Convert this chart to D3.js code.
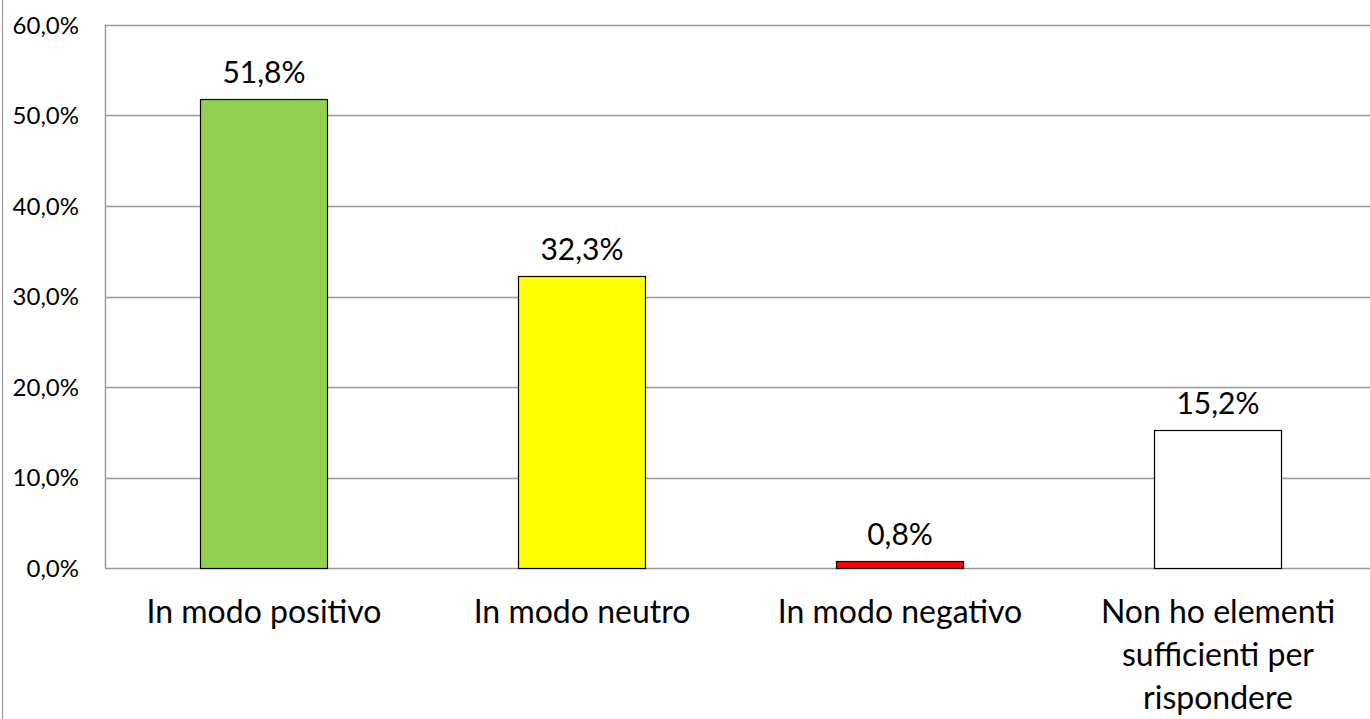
<!DOCTYPE html>
<html>
<head>
<meta charset="utf-8">
<script src="https://cdn.jsdelivr.net/npm/d3@7"></script>
<style>
  body { margin: 0; background: #fff; }
  svg { display: block; font-family: Lato, "Open Sans", sans-serif; }
</style>
</head>
<body>
<div id="container"></div>
<script>
// data
const categories = ['In modo positivo', 'In modo neutro', 'In modo negativo', 'Non ho elementi sufficienti per rispondere'];
const labelLines = [['In modo positivo'], ['In modo neutro'], ['In modo negativo'], ['Non ho elementi', 'sufficienti per', 'rispondere']];
const values = [51.8, 32.3, 0.8, 15.2];
const colors = ['#92d050', '#ffff00', '#ff0000', '#ffffff'];
const yTicks = [0, 10, 20, 30, 40, 50, 60];

const width = 1370, height = 719;
const plot = {left: 105, top: 25, right: 1377, bottom: 568};

const fmt = v => v.toFixed(1).replace('.', ',') + '%';

const svg = d3.select('#container')
  .append('svg')
  .attr('width', width)
  .attr('height', height);

// outer chart border (only the left edge is visible)
svg.append('line')
  .attr('x1', 2.5).attr('x2', 2.5)
  .attr('y1', 0).attr('y2', height)
  .attr('stroke', '#8c8c8c')
  .attr('stroke-width', 1);

// scales
const x = d3.scaleBand()
  .domain(categories)
  .range([plot.left, plot.right])
  .paddingInner(0.6)
  .paddingOuter(0.3);

const y = d3.scaleLinear()
  .domain([0, 60])
  .range([plot.bottom, plot.top]);

// gridlines
svg.append('g')
  .selectAll('line')
  .data(yTicks)
  .enter()
  .append('line')
  .attr('x1', plot.left)
  .attr('x2', width)
  .attr('y1', d => Math.round(y(d)) + 0.5)
  .attr('y2', d => Math.round(y(d)) + 0.5)
  .attr('stroke', '#999')
  .attr('stroke-width', 1.5);

// y axis line
svg.append('line')
  .attr('x1', plot.left + 0.5).attr('x2', plot.left + 0.5)
  .attr('y1', plot.top).attr('y2', plot.bottom)
  .attr('stroke', '#999')
  .attr('stroke-width', 1.5);

// y tick labels
svg.append('g')
  .selectAll('text')
  .data(yTicks)
  .enter()
  .append('text')
  .attr('x', 79)
  .attr('y', d => y(d))
  .attr('dy', '0.36em')
  .attr('text-anchor', 'end')
  .attr('font-size', 24)
  .attr('fill', '#000')
  .text(d => fmt(d));

// bars
svg.append('g')
  .selectAll('rect')
  .data(values)
  .enter()
  .append('rect')
  .attr('x', (d, i) => Math.round(x(categories[i])) + 0.5)
  .attr('y', d => Math.round(y(d)) + 0.5)
  .attr('width', Math.round(x.bandwidth()))
  .attr('height', d => Math.round(y(0)) - Math.round(y(d)))
  .attr('fill', (d, i) => colors[i])
  .attr('stroke', '#000')
  .attr('stroke-width', 1.2);

// data labels
svg.append('g')
  .selectAll('text')
  .data(values)
  .enter()
  .append('text')
  .attr('x', (d, i) => x(categories[i]) + x.bandwidth() / 2)
  .attr('y', d => y(d) - 16)
  .attr('text-anchor', 'middle')
  .attr('font-size', 30)
  .attr('fill', '#000')
  .text(d => fmt(d));

// category labels
const cat = svg.append('g')
  .selectAll('text')
  .data(labelLines)
  .enter()
  .append('text')
  .attr('x', (d, i) => x(categories[i]) + x.bandwidth() / 2)
  .attr('y', 623)
  .attr('text-anchor', 'middle')
  .attr('font-size', 32)
  .attr('fill', '#000');

cat.selectAll('tspan')
  .data(d => d)
  .enter()
  .append('tspan')
  .attr('x', function() { return d3.select(this.parentNode).attr('x'); })
  .attr('dy', (d, i) => i === 0 ? 0 : 43)
  .text(d => d);
</script>
</body>
</html>
